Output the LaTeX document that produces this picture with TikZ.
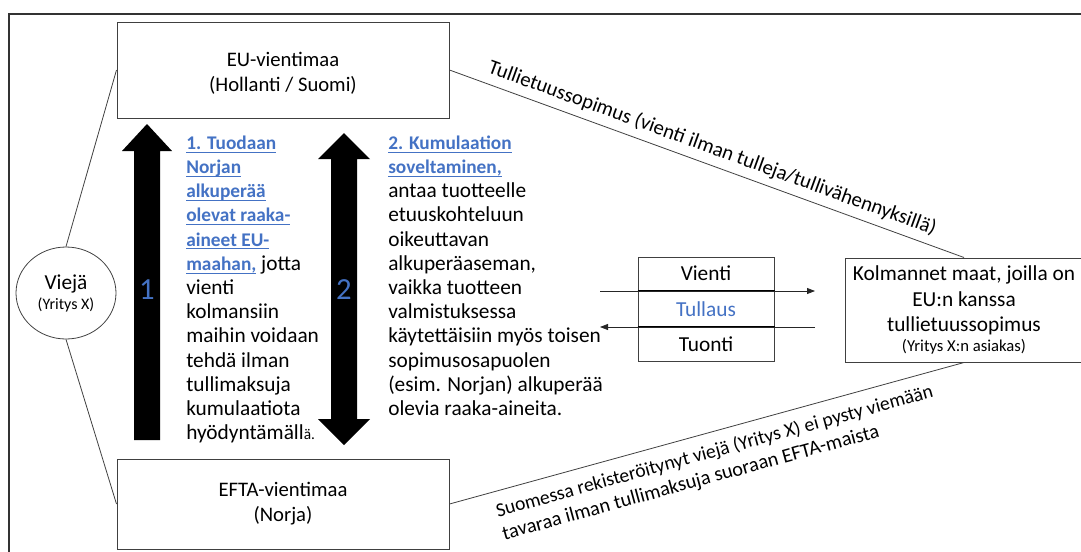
\documentclass[tikz,border=0pt]{standalone}
\usepackage{fontspec}
\setmainfont{Carlito}
\usetikzlibrary{arrows.meta,shapes.geometric}
\definecolor{accent}{HTML}{4472C4}
\definecolor{linegray}{HTML}{404040}
\newcommand{\ulb}[1]{\setbox0=\hbox{#1}\rlap{\rule[-2.6pt]{\wd0}{0.8pt}}\box0}
\newcommand{\hl}[1]{{\fontsize{14.5}{18.15}\selectfont\bfseries\color{accent}\ulb{#1}}}
\tikzset{
  box/.style={draw=linegray, line width=0.75pt, fill=white, inner sep=0pt},
  conn/.style={draw=linegray, line width=0.6pt},
  flow/.style={draw=black!85, line width=0.6pt, -{Triangle[length=6pt,width=4.5pt]}},
  txt/.style={anchor=north west, align=left, inner sep=0pt, font=\fontsize{16}{18.15}\selectfont},
  blockarrow/.style={fill=black},
  num/.style={text=accent, font=\fontsize{23}{26}\selectfont, inner sep=0pt},
  boxfont/.style={font=\fontsize{15.5}{18.75}\selectfont},
  diag/.style={font=\fontsize{15.5}{18}\selectfont}
}
\begin{document}
\begin{tikzpicture}[x=0.75pt, y=-0.75pt, font=\fontsize{16}{18.15}\selectfont]
\useasboundingbox (0,0) rectangle (1081,551);
% frame
\draw[line width=1.1pt, black!80] (9,560) -- (9,14) -- (1090,14);

% main boxes
\node[box, boxfont, minimum width=249pt, minimum height=72pt, align=center] (eu) at (283,70)
  {\rule{0pt}{16pt}EU-vientimaa\\(Hollanti / Suomi)};
\node[box, boxfont, minimum width=249pt, minimum height=67.5pt, align=center] (efta) at (283,504)
  {EFTA-vientimaa\\(Norja)};
\node[draw=linegray, line width=0.6pt, ellipse, minimum width=75pt, minimum height=69pt, inner sep=0pt, align=center, font=\fontsize{16}{18}\selectfont] (viej) at (66,293)
  {Viejä\\[-3pt]{\fontsize{12}{13}\selectfont (Yritys X)}};
\node[box, minimum width=178.5pt, minimum height=78pt, align=center, font=\fontsize{16}{19}\selectfont] (kol) at (964,310)
  {Kolmannet maat, joilla on\\EU:n kanssa\\tullietuussopimus\\[-4pt]{\fontsize{12.5}{14}\selectfont (Yritys X:n asiakas)}};

% connectors
\draw[conn] (viej.north) -- (eu.west);
\draw[conn] (viej.south) -- (efta.west);
\draw[conn] (eu.east) -- node[diag, midway, sloped, above, inner sep=5pt] {Tullietuussopimus (vienti ilman tulleja/tullivähennyksillä)} (kol.north);
\draw[conn] (efta.east) -- node[font=\fontsize{15.2}{18}\selectfont, pos=0.505, sloped, below, align=left, inner sep=8pt] {{\fontsize{14.7}{18}\selectfont Suomessa rekisteröitynyt viejä (Yritys X) ei pysty viemään}\\tavaraa ilman tullimaksuja suoraan EFTA-maista} (kol.south);

% block arrows
\fill[blockarrow] (147,124) -- (172,151) -- (160,151) -- (160,440) -- (134,440) -- (134,151) -- (122,151) -- cycle;
\fill[blockarrow] (344,133) -- (370,159) -- (357,159) -- (357,419) -- (370,419) -- (344,445) -- (318,419) -- (331,419) -- (331,159) -- (318,159) -- cycle;
\node[num] (n1) at (147,290) {1};
\node[num] (n2) at (344,290) {2};

% text blocks
\node[txt] (t1) at (186,132) {\strut\hl{1. Tuodaan}\\\hl{Norjan}\\\hl{alkuperää}\\\hl{olevat raaka-}\\\hl{aineet EU-}\\\hl{maahan,} jotta\\vienti\\kolmansiin\\maihin voidaan\\tehdä ilman\\tullimaksuja\\kumulaatiota\\hyödyntämäll{\fontsize{11.5}{13}\selectfont ä.}};
\node[txt] (t2) at (388,132) {\strut\hl{2. Kumulaation}\\\hl{soveltaminen,}\\antaa tuotteelle\\etuuskohteluun\\oikeuttavan\\alkuperäaseman,\\vaikka tuotteen\\valmistuksessa\\käytettäisiin myös toisen\\sopimusosapuolen\\(esim. Norjan) alkuperää\\olevia raaka-aineita.};

% customs box
\node[box, minimum width=102pt, minimum height=78pt] (cb) at (706,309) {};
\node (vi) at (706,273) {Vienti};
\node[text=accent] (tu) at (706,309) {Tullaus};
\node (to) at (706,344) {Tuonti};
\coordinate (v1) at (600,291);
\coordinate (v2) at (815,291);
\coordinate (i1) at (815,327);
\coordinate (i2) at (600,327);
\draw[line width=1pt, black] (cb.west |- v1) -- (cb.east |- v1);
\draw[line width=1pt, black] (cb.west |- i1) -- (cb.east |- i1);
\draw[flow] (v1) -- (v2);
\draw[flow] (i1) -- (i2);
\end{tikzpicture}
\end{document}
